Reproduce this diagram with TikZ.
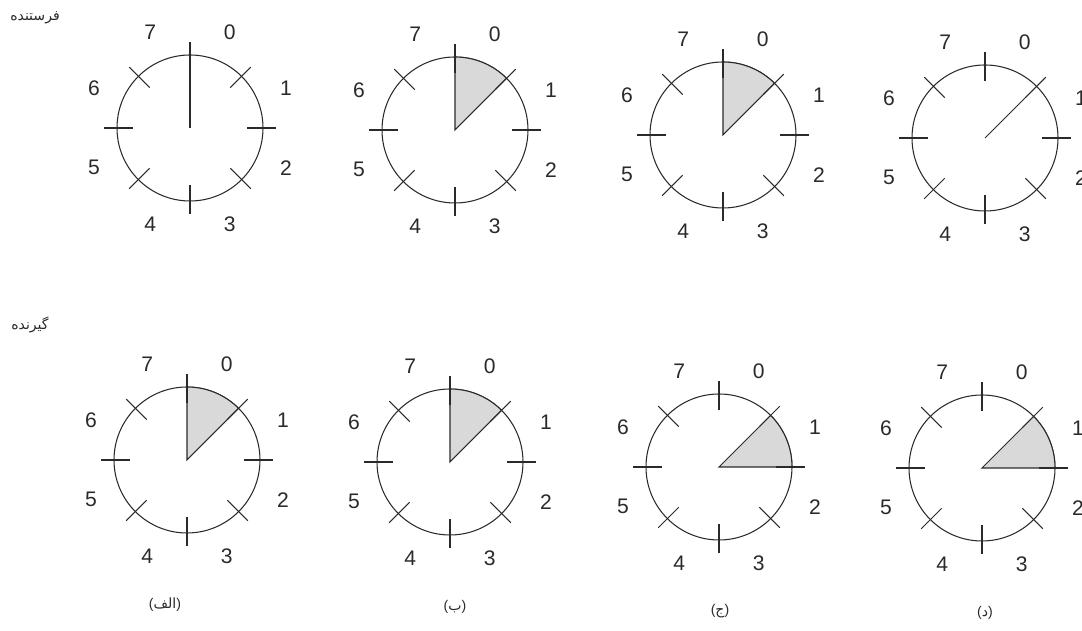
\documentclass[tikz,border=0pt]{standalone}
\usepackage{fontspec}
\setmainfont{Liberation Sans}
\newfontfamily\persianfont[Script=Arabic]{DejaVu Sans}
\TeXXeTstate=1
\usepackage{tikz}
\usetikzlibrary{calc}
\definecolor{inkline}{HTML}{2A2A2A}
\definecolor{slicefill}{HTML}{D9D9D9}

\begin{document}
\begin{tikzpicture}[
  dial/.style={circle, draw=inkline, line width=0.6pt, minimum size=2.92cm, inner sep=0pt},
  tickmark/.style={draw=inkline, line width=0.6pt},
  pointer/.style={draw=inkline, line width=0.6pt},
  slice/.style={draw=inkline, fill=slicefill, line width=0.6pt},
  digit/.style={font=\fontsize{12}{14}\selectfont, text=inkline},
  rowlabel/.style={font=\persianfont\fontsize{8}{10}\selectfont, text=inkline},
  caption/.style={font=\fontsize{8}{10}\selectfont, text=inkline},
]
  \useasboundingbox (0,0) rectangle (21.64,12.62);

  % sender row
  \node[dial] (sa) at (3.80,10.06) {};
  \node[dial] (sb) at (9.10,10.02) {};
  \node[dial] (sc) at (14.46,9.92) {};
  \node[dial] (sd) at (19.70,9.86) {};
  % receiver row
  \node[dial] (ra) at (3.74,3.42) {};
  \node[dial] (rb) at (9.00,3.38) {};
  \node[dial] (rc) at (14.38,3.28) {};
  \node[dial] (rd) at (19.64,3.26) {};

  % windows
  \path[slice] (sb.center) -- ($(sb.center)+(90:1.46)$) arc (90:45:1.46) -- cycle;
  \path[slice] (sc.center) -- ($(sc.center)+(90:1.46)$) arc (90:45:1.46) -- cycle;
  \path[slice] (ra.center) -- ($(ra.center)+(90:1.46)$) arc (90:45:1.46) -- cycle;
  \path[slice] (rb.center) -- ($(rb.center)+(90:1.46)$) arc (90:45:1.46) -- cycle;
  \path[slice] (rc.center) -- ($(rc.center)+(45:1.46)$) arc (45:0:1.46) -- cycle;
  \path[slice] (rd.center) -- ($(rd.center)+(45:1.46)$) arc (45:0:1.46) -- cycle;

  % empty windows
  \draw[pointer] (sa.center) -- ($(sa.center)+(90:1.72)$);
  \draw[pointer] (sd.center) -- ($(sd.center)+(45:1.72)$);

  % ticks and sequence numbers
  \foreach \d in {sa,sb,sc,sd,ra,rb,rc,rd}{
    \foreach \a in {0,45,...,315}
      \draw[tickmark] ($(\d.center)+(\a:1.14)$) -- ($(\d.center)+(\a:1.72)$);
    \foreach \k in {0,...,7}
      \node[digit] (\d-\k) at ($(\d.center)+({67.5-45*\k}:2.08)$) {\k};
  }

  \node[rowlabel] (sender) at (0.70,12.26) {\beginR فرستنده\endR};
  \node[rowlabel] (receiver) at (0.60,6.12) {\beginR گیرنده\endR};

  \node[caption] (capa) at (3.30,0.52) {({\persianfont\beginR الف\endR})};
  \node[caption] (capb) at (9.10,0.48) {({\persianfont\beginR ب\endR})};
  \node[caption] (capc) at (14.40,0.40) {({\persianfont\beginR ج\endR})};
  \node[caption] (capd) at (19.70,0.36) {({\persianfont\beginR د\endR})};
\end{tikzpicture}
\end{document}
